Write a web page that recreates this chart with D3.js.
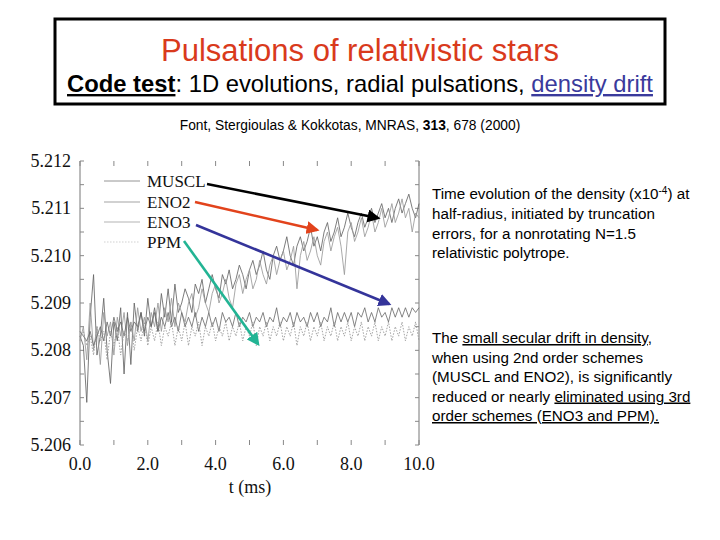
<!DOCTYPE html>
<html><head><meta charset="utf-8">
<script src="https://cdn.jsdelivr.net/npm/d3@7"></script>
<style>body{margin:0;background:#fff}svg{display:block}</style>
</head><body>
<svg id="c" width="720" height="540"></svg>
<script>
const times = [0,0.1,0.2,0.3,0.4,0.5,0.6,0.7,0.8,0.9,1,1.1,1.2,1.3,1.4,1.5,1.6,1.7,1.8,1.9,2,2.1,2.2,2.3,2.4,2.5,2.6,2.7,2.8,2.9,3,3.1,3.2,3.3,3.4,3.5,3.6,3.7,3.8,3.9,4,4.1,4.2,4.3,4.4,4.5,4.6,4.7,4.8,4.9,5,5.1,5.2,5.3,5.4,5.5,5.6,5.7,5.8,5.9,6,6.1,6.2,6.3,6.4,6.5,6.6,6.7,6.8,6.9,7,7.1,7.2,7.3,7.4,7.5,7.6,7.7,7.8,7.9,8,8.1,8.2,8.3,8.4,8.5,8.6,8.7,8.8,8.9,9,9.1,9.2,9.3,9.4,9.5,9.6,9.7,9.8,9.9,10];
const muscl = [5.2083,5.2081,5.2069,5.2087,5.2096,5.2079,5.2083,5.2091,5.2080,5.2073,5.2086,5.2082,5.2089,5.2075,5.2088,5.2077,5.2090,5.2084,5.2088,5.2083,5.2091,5.2085,5.2089,5.2084,5.2092,5.2087,5.2093,5.2086,5.2094,5.2088,
  5.2090,5.2093,5.2091,5.2088,5.2094,5.2092,5.2095,5.2090,5.2093,5.2096,
  5.2093,5.2091,5.2096,5.2094,5.2097,5.2093,5.2095,5.2098,5.2096,5.2093,
  5.2097,5.2099,5.2096,5.2098,5.2101,5.2097,5.2095,5.2100,5.2102,5.2099,
  5.2101,5.2104,5.2100,5.2098,5.2102,5.2104,5.2101,5.2103,5.2106,5.2102,
  5.2104,5.2101,5.2105,5.2107,5.2103,5.2105,5.2108,5.2104,5.2106,5.2109,
  5.2106,5.2104,5.2107,5.2109,5.2106,5.2108,5.2110,5.2107,5.2109,5.2111,
  5.2108,5.2110,5.2107,5.2110,5.2112,5.2109,5.2111,5.2113,5.2110,5.2108,5.2111];
const eno2 = [5.2082,5.2085,5.2078,5.2090,5.2080,5.2085,5.2077,5.2088,5.2083,5.2086,5.2079,5.2087,5.2083,5.2088,5.2081,5.2086,5.2082,5.2089,5.2084,5.2087,5.2082,5.2088,5.2085,5.2090,5.2084,5.2089,5.2086,5.2091,5.2085,5.2090,
  5.2088,5.2086,5.2090,5.2092,5.2087,5.2089,5.2093,5.2090,5.2088,5.2092,
  5.2094,5.2090,5.2092,5.2095,5.2091,5.2089,5.2094,5.2096,5.2092,5.2095,
  5.2097,5.2093,5.2095,5.2099,5.2096,5.2094,5.2098,5.2100,5.2096,5.2099,
  5.2101,5.2097,5.2099,5.2102,5.2093,5.2100,5.2103,5.2099,5.2101,5.2104,
  5.2100,5.2098,5.2103,5.2105,5.2101,5.2104,5.2106,5.2102,5.2096,5.2105,
  5.2107,5.2103,5.2105,5.2108,5.2104,5.2106,5.2109,5.2105,5.2107,5.2110,
  5.2106,5.2108,5.2111,5.2107,5.2109,5.2112,5.2108,5.2110,5.2105,5.2109,5.2108];
const eno3 = [5.2084,5.2083,5.2082,5.2084,5.2081,5.2083,5.2085,5.2082,5.2086,5.2083,5.2087,5.2084,5.2086,5.2083,5.2087,5.2084,5.2086,5.2085,5.2088,5.2084,5.2087,5.2085,5.2088,5.2084,5.2087,5.2085,5.2088,5.2085,5.2087,5.2084,5.2088,5.2085,5.2087,5.2085,5.2088,5.2084,5.2087,5.2085,5.2088,5.2085,5.2087,5.2084,5.2088,5.2086,5.2087,5.2085,5.2088,5.2085,5.2087,5.2086,5.2088,5.2085,5.2087,5.2086,5.2088,5.2085,5.2087,5.2086,5.2089,5.2085,5.2087,5.2086,5.2088,5.2085,5.2088,5.2086,5.2087,5.2085,5.2088,5.2086,5.2088,5.2085,5.2087,5.2086,5.2089,5.2085,5.2088,5.2086,5.2088,5.2086,5.2088,5.2085,5.2088,5.2087,5.2089,5.2086,5.2088,5.2086,5.2089,5.2087,5.2088,5.2086,5.2089,5.2087,5.2089,5.2087,5.2089,5.2087,5.2089,5.2088,5.2089];
const ppm = [5.2083,5.2084,5.2081,5.2083,5.2079,5.2085,5.2082,5.2084,5.2078,5.2084,5.2081,5.2085,5.2079,5.2084,5.2082,5.2086,5.2080,5.2085,5.2082,5.2086,5.2081,5.2085,5.2082,5.2086,5.2081,5.2085,5.2083,5.2086,5.2081,5.2085,5.2082,5.2086,5.2081,5.2085,5.2083,5.2086,5.2081,5.2085,5.2083,5.2086,5.2082,5.2085,5.2083,5.2086,5.2082,5.2085,5.2083,5.2086,5.2082,5.2085,5.2083,5.2086,5.2081,5.2085,5.2083,5.2086,5.2082,5.2085,5.2083,5.2086,5.2082,5.2085,5.2083,5.2086,5.2081,5.2085,5.2083,5.2086,5.2082,5.2085,5.2083,5.2086,5.2082,5.2085,5.2083,5.2086,5.2082,5.2085,5.2083,5.2086,5.2082,5.2085,5.2083,5.2086,5.2082,5.2085,5.2083,5.2086,5.2082,5.2085,5.2083,5.2086,5.2082,5.2085,5.2083,5.2086,5.2082,5.2085,5.2083,5.2086,5.2082];
const seriesNames = ["MUSCL","ENO2","ENO3","PPM"];
const yTicks = [5.206,5.207,5.208,5.209,5.210,5.211,5.212];
const xTicks = [0,2,4,6,8,10];
const xTickLabels = ["0.0","2.0","4.0","6.0","8.0","10.0"];

const svg = d3.select("#c");
const x = d3.scaleLinear().domain([0,10]).range([80,419]);
const y = d3.scaleLinear().domain([5.206,5.212]).range([445,161]);

// Title box
svg.append("rect").attr("x",55).attr("y",19).attr("width",610).attr("height",85)
  .attr("fill","#fff").attr("stroke","#000").attr("stroke-width",3);
svg.append("text").attr("x",360).attr("y",61).attr("text-anchor","middle")
  .attr("font-family","Liberation Sans, Arial, sans-serif").attr("font-size",31)
  .attr("fill","#d93a1c").text("Pulsations of relativistic stars");
const sub = svg.append("text").attr("x",360).attr("y",92).attr("text-anchor","middle")
  .attr("font-family","Liberation Sans, Arial, sans-serif").attr("font-size",23.8).attr("fill","#000");
sub.append("tspan").attr("font-weight","bold").attr("text-decoration","underline").text("Code test");
sub.append("tspan").text(": 1D evolutions, radial pulsations, ");
sub.append("tspan").attr("fill","#3a3a9c").attr("text-decoration","underline").text("density drift");

// citation
const cit = svg.append("text").attr("x",350).attr("y",130).attr("text-anchor","middle")
  .attr("font-family","Liberation Sans, Arial, sans-serif").attr("font-size",13.8).attr("fill","#000");
cit.append("tspan").text("Font, Stergioulas & Kokkotas, MNRAS, ");
cit.append("tspan").attr("font-weight","bold").text("313");
cit.append("tspan").text(", 678 (2000)");

// axes frame
const g = svg.append("g");
g.append("line").attr("x1",x(0)).attr("x2",x(0)).attr("y1",y(5.212)).attr("y2",y(5.206)).attr("stroke","#777").attr("stroke-width",1);
g.append("line").attr("x1",x(10)).attr("x2",x(10)).attr("y1",y(5.212)).attr("y2",y(5.206)).attr("stroke","#777").attr("stroke-width",1);
const yMinor = d3.range(5.206,5.21201,0.0005);
const xMinor = d3.range(0,10.01,1);
yMinor.forEach(v=>{
  g.append("line").attr("x1",x(0)).attr("x2",x(0)+4).attr("y1",y(v)).attr("y2",y(v)).attr("stroke","#888");
  g.append("line").attr("x1",x(10)).attr("x2",x(10)-4).attr("y1",y(v)).attr("y2",y(v)).attr("stroke","#888");
});
xMinor.forEach(v=>{
  g.append("line").attr("x1",x(v)).attr("x2",x(v)).attr("y1",y(5.206)).attr("y2",y(5.206)-5).attr("stroke","#888");
  g.append("line").attr("x1",x(v)).attr("x2",x(v)).attr("y1",y(5.212)).attr("y2",y(5.212)+5).attr("stroke","#888");
});
svg.selectAll(".yl").data(yTicks).enter().append("text")
  .attr("x",71).attr("y",d=>y(d)+6).attr("text-anchor","end")
  .attr("font-family","Liberation Serif, Times New Roman, serif").attr("font-size",18).attr("fill","#111")
  .text(d=>d.toFixed(3));
svg.selectAll(".xl").data(xTicks).enter().append("text")
  .attr("x",d=>x(d)).attr("y",470).attr("text-anchor","middle")
  .attr("font-family","Liberation Serif, Times New Roman, serif").attr("font-size",18).attr("fill","#111")
  .text((d,i)=>xTickLabels[i]);
svg.append("text").attr("x",250).attr("y",493).attr("text-anchor","middle")
  .attr("font-family","Liberation Serif, Times New Roman, serif").attr("font-size",18).attr("fill","#111")
  .text("t (ms)");

// series
const styles = [
  {data:muscl, color:"#666", w:0.85, dash:null},
  {data:eno2, color:"#999", w:0.85, dash:null},
  {data:eno3, color:"#666", w:0.8, dash:null},
  {data:ppm, color:"#999", w:0.9, dash:"1.5,1.5"}
];
const line = d3.line().x((d,i)=>x(times[i])).y(d=>y(d));
styles.forEach(s=>{
  svg.append("path").datum(s.data).attr("d",line).attr("fill","none")
    .attr("stroke",s.color).attr("stroke-width",s.w).attr("stroke-dasharray",s.dash);
});

// legend
const legY = [181,202,222,242];
seriesNames.forEach((n,i)=>{
  svg.append("line").attr("x1",104).attr("x2",140).attr("y1",legY[i]).attr("y2",legY[i])
    .attr("stroke",["#888","#999","#aaa","#ccc"][i]).attr("stroke-width",0.9)
    .attr("stroke-dasharray",i===3?"1.5,1.5":null);
  svg.append("text").attr("x",147).attr("y",legY[i]+6)
    .attr("font-family","Liberation Serif, Times New Roman, serif").attr("font-size",17).attr("fill","#111")
    .text(n);
});

// arrows
const defs = svg.append("defs");
const arrows = [
  {c:"#000", x1:207,y1:184,x2:378,y2:218},
  {c:"#e2431c", x1:195,y1:202,x2:317,y2:230},
  {c:"#34349a", x1:196,y1:225,x2:389,y2:304},
  {c:"#22b494", x1:184,y1:241,x2:258,y2:344}
];
arrows.forEach((a,i)=>{
  defs.append("marker").attr("id","m"+i).attr("viewBox","0 0 10 10").attr("refX",8).attr("refY",5)
    .attr("markerWidth",5).attr("markerHeight",5).attr("orient","auto")
    .append("path").attr("d","M0,0L10,5L0,10z").attr("fill",a.c);
  svg.append("line").attr("x1",a.x1).attr("y1",a.y1).attr("x2",a.x2).attr("y2",a.y2)
    .attr("stroke",a.c).attr("stroke-width",2.6).attr("marker-end","url(#m"+i+")");
});

// right text
const tf = "Liberation Sans, Arial, sans-serif";
const fs = 15.2;
const p1 = svg.append("text").attr("font-family",tf).attr("font-size",fs).attr("fill","#000");
const l1 = p1.append("tspan").attr("x",432).attr("y",199);
l1.append("tspan").text("Time evolution of the density (x10");
l1.append("tspan").attr("font-size",10).attr("dy",-5).text("-4");
l1.append("tspan").attr("dy",5).text(") at");
["half-radius, initiated by truncation","errors, for a nonrotating N=1.5","relativistic polytrope."].forEach((t,i)=>{
  p1.append("tspan").attr("x",432).attr("y",219+i*19.5).text(t);
});
const p2 = svg.append("text").attr("font-family",tf).attr("font-size",fs).attr("fill","#000");
const a1 = p2.append("tspan").attr("x",432).attr("y",343);
a1.append("tspan").text("The ");
a1.append("tspan").attr("text-decoration","underline").text("small secular drift in density");
a1.append("tspan").text(",");
p2.append("tspan").attr("x",432).attr("y",362.5).text("when using 2nd order schemes");
p2.append("tspan").attr("x",432).attr("y",382).text("(MUSCL and ENO2), is significantly");
const a4 = p2.append("tspan").attr("x",432).attr("y",401.5);
a4.append("tspan").text("reduced or nearly ");
a4.append("tspan").attr("text-decoration","underline").text("eliminated using 3rd");
p2.append("tspan").attr("x",432).attr("y",421).attr("text-decoration","underline").text("order schemes (ENO3 and PPM).");
</script>
</body></html>
